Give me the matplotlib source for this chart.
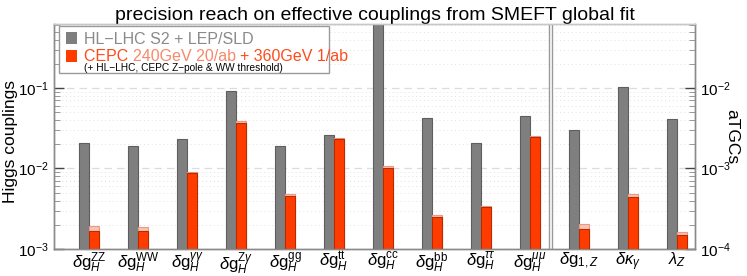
import matplotlib
matplotlib.use("Agg")
import matplotlib.pyplot as plt
import numpy as np
from matplotlib.patches import Rectangle
from matplotlib.ticker import LogLocator, NullFormatter

plt.rcParams['font.family'] = ['Liberation Sans', 'DejaVu Sans']
plt.rcParams['mathtext.fontset'] = 'custom'
plt.rcParams['mathtext.rm'] = 'Liberation Sans'
plt.rcParams['mathtext.it'] = 'Liberation Sans:italic'
plt.rcParams['mathtext.bf'] = 'Liberation Sans:bold'

labels = [r'$\delta\mathrm{g}_H^{\mathrm{ZZ}}$', r'$\delta\mathrm{g}_H^{\mathrm{WW}}$',
          r'$\delta\mathrm{g}_H^{\gamma\gamma}$', r'$\delta\mathrm{g}_H^{\mathrm{Z}\gamma}$',
          r'$\delta\mathrm{g}_H^{\mathrm{gg}}$', r'$\delta\mathrm{g}_H^{\mathrm{tt}}$',
          r'$\delta\mathrm{g}_H^{\mathrm{cc}}$', r'$\delta\mathrm{g}_H^{\mathrm{bb}}$',
          r'$\delta\mathrm{g}_H^{\tau\tau}$', r'$\delta\mathrm{g}_H^{\mu\mu}$',
          r'$\delta\mathrm{g}_{1,Z}$', r'$\delta\kappa_\gamma$', r'$\lambda_Z$']

# Higgs couplings (left axis)
hl_higgs = [0.021, 0.0192, 0.0232, 0.0926, 0.019, 0.0258, 1.0, 0.042, 0.021, 0.0449]
cepc240_higgs = [0.00191, 0.00186, 0.0090, 0.0385, 0.00482, 0.0240, 0.0107, 0.00263, 0.00344, 0.0252]
cepc360_higgs = [0.00169, 0.00168, 0.00888, 0.0371, 0.00459, 0.0232, 0.0102, 0.00248, 0.0033, 0.0249]
# aTGCs (right axis)
hl_tgc = [0.00298, 0.0102, 0.00408]
cepc240_tgc = [2.03e-4, 4.78e-4, 1.62e-4]
cepc360_tgc = [1.77e-4, 4.43e-4, 1.49e-4]

fig = plt.figure(figsize=(7.47, 2.76), dpi=100)
ax = fig.add_axes([54/747, 1-249/276, (695-54)/747, (249-24)/276])
ax2 = ax.twinx()

ylo, yhi = 1e-3, 10**-0.205
ax.set_yscale('log'); ax2.set_yscale('log')
ax.set_ylim(ylo, yhi); ax2.set_ylim(ylo/10, yhi/10)
ax.set_xlim(-0.714, 12.37)

w = 0.204
gray, grayedge = '#7f7f7f', '#5e5e5e'
org, orgedge = '#ff3c00', '#b82a00'
light, lightedge = '#f9c3b4', '#e89a86'

nH = len(hl_higgs)
xh = np.arange(nH)
xt = np.arange(nH, nH + len(hl_tgc))
ax.bar(xh - w/2, np.array(hl_higgs) - ylo, width=w, color=gray, edgecolor=grayedge, lw=0.8, bottom=ylo, zorder=3)
ax.bar(xh + w/2, np.array(cepc240_higgs) - ylo, width=w, color=light, edgecolor=lightedge, lw=0.8, bottom=ylo, zorder=3)
ax.bar(xh + w/2, np.array(cepc360_higgs) - ylo, width=w, color=org, edgecolor=orgedge, lw=0.8, bottom=ylo, zorder=4)
ax2.bar(xt - w/2, np.array(hl_tgc) - ylo/10, width=w, color=gray, edgecolor=grayedge, lw=0.8, bottom=ylo/10, zorder=3)
ax2.bar(xt + w/2, np.array(cepc240_tgc) - ylo/10, width=w, color=light, edgecolor=lightedge, lw=0.8, bottom=ylo/10, zorder=3)
ax2.bar(xt + w/2, np.array(cepc360_tgc) - ylo/10, width=w, color=org, edgecolor=orgedge, lw=0.8, bottom=ylo/10, zorder=4)

# grid
for v in [1e-3, 1e-2, 1e-1]:
    ax.axhline(v, color='#dcdcdc', lw=0.9, ls=(0, (6, 4)), zorder=1)
for d in [1e-3, 1e-2, 1e-1]:
    for m in range(2, 10):
        if m*d < yhi:
            ax.axhline(m*d, color='#e2e2e2', lw=0.7, ls=(0, (1, 3)), zorder=1)

# divider
for xd in [9.38, 9.455]:
    ax.axvline(xd, color='#9a9a9a', lw=1.0, zorder=5)

ax.set_xticks(np.arange(nH + len(hl_tgc)))
ax.set_xticklabels(labels, fontsize=12)
ax.tick_params(axis='x', length=0, pad=1)

for a in [ax, ax2]:
    a.yaxis.set_major_locator(LogLocator(base=10, numticks=10))
    a.yaxis.set_minor_locator(LogLocator(base=10, subs=np.arange(2, 10), numticks=20))
    a.yaxis.set_minor_formatter(NullFormatter())
    a.tick_params(axis='y', which='major', direction='in', length=7, width=1.0, color='#444444', labelsize=11)
    a.tick_params(axis='y', which='minor', direction='in', length=4, width=0.6, color='#888888')

for a in [ax, ax2]:
    for s in a.spines.values():
        s.set_color('#8a8a8a'); s.set_linewidth(1.0)
    a.spines['top'].set_color('#c8c8c8')

ax.set_ylabel('Higgs couplings', fontsize=12.5)
ax.yaxis.set_label_coords(-0.056, 0.48)
ax2.set_ylabel('aTGCs', fontsize=12.5, rotation=270, labelpad=6)
ax.set_title('precision reach on effective couplings from SMEFT global fit', fontsize=14.0, pad=3)

# legend overlay (pixel coordinates)
lax = fig.add_axes([0, 0, 1, 1], zorder=20)
lax.set_xlim(0, 747); lax.set_ylim(276, 0)
lax.axis('off')
lax.add_patch(Rectangle((59, 26), 270, 47, facecolor='white', edgecolor='#9a9a9a', lw=1.0))
lax.add_patch(Rectangle((66, 32), 11, 12, facecolor=gray, edgecolor='none'))
lax.add_patch(Rectangle((66, 50), 11, 12, facecolor=org, edgecolor='none'))
lax.text(84, 44, 'HL\u2212LHC S2 + LEP/SLD', color='#8a8a8a', fontsize=11.5, va='baseline')
t1 = lax.text(84, 61, 'CEPC ', color='#ff4a1a', fontsize=11.5, va='baseline')
t2 = lax.annotate('240GeV 20/ab ', xy=(1, 0), xycoords=t1, va='bottom', ha='left',
                  color='#f7896b', fontsize=11.5, annotation_clip=False)
t3 = lax.annotate('+ 360GeV 1/ab', xy=(1, 0), xycoords=t2, va='bottom', ha='left',
                  color='#ff4a1a', fontsize=11.5, annotation_clip=False)
lax.text(84, 71, '(+ HL\u2212LHC, CEPC Z\u2212pole & WW threshold)', color='black', fontsize=7.3, va='baseline')

fig.savefig('out.png', dpi=100)
